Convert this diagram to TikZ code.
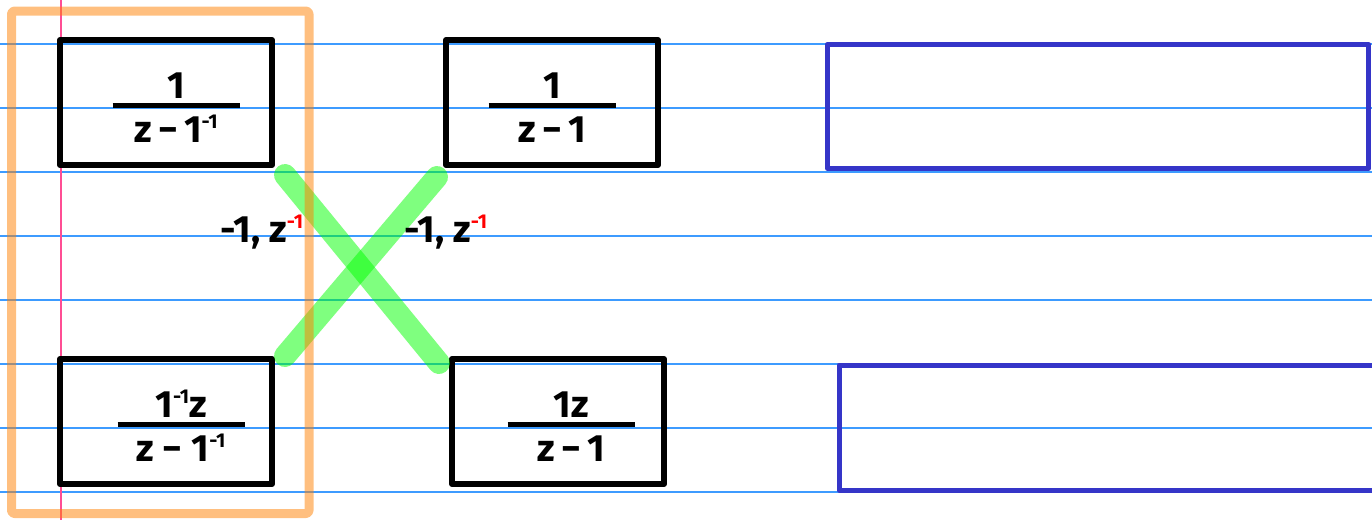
\documentclass[tikz,border=0pt]{standalone}
\usepackage{fontspec}
\setmainfont{Fira Sans}
\usetikzlibrary{positioning}

\definecolor{ruleblue}{HTML}{3D9BFF}
\definecolor{marginpink}{HTML}{FF4D94}
\definecolor{boxblue}{HTML}{3535C8}

\newcommand{\hwsup}[1]{\raisebox{14pt}{\fontsize{20}{20}\selectfont #1}}
% optional shift moves the whole fraction to the right
\newcommand{\hwfrac}[3][0pt]{\hspace*{#1}\rule{0pt}{36pt}#2\\[-30.5pt]\hspace*{#1}\rule{127pt}{5pt}\\[-5.5pt]\hspace*{#1}#3}

\begin{document}
\begin{tikzpicture}[x=1pt,y=-1pt,line join=round,
    hw/.style={font=\fontsize{38}{40}\selectfont\bfseries},
    fbox/.style={draw,line width=6pt,minimum width=212pt,minimum height=125pt,inner sep=0pt,align=center,hw},
    ansbox/.style={draw=boxblue,line width=5pt,minimum height=124pt,inner sep=0pt},
    cross/.style={green,opacity=0.5,line width=22pt,line cap=round}]
        \clip (0,0) rectangle (1372,520);
        % ruled paper
        \foreach \y in {44,108,...,492}
            \draw[ruleblue,line width=1.5pt] (0,\y) -- (1372,\y);
        \draw[marginpink,line width=1.5pt] (61,0) -- (61,520);
        % fractions
        \node[fbox] (tl) at (166,102.5) {\hwfrac[20pt]{1}{z\,−\,1\hwsup{-1}}};
        \node[fbox,right=168pt of tl] (tm) {\hwfrac{1}{z\,−\,1}};
        \node[fbox,below=188pt of tl] (bl) {\hwfrac[30pt]{1\hwsup{-1}z}{z − 1\hwsup{-1}}};
        \node[fbox,right=174pt of bl] (bm) {\hwfrac[26pt]{1z}{z\,−\,1}};
        % empty answer boxes
        \node[ansbox,minimum width=541pt] (ansTop) at (1098,106.3) {};
        \node[ansbox,minimum width=562pt,minimum height=125pt] (ansBot) at (1120,427.5) {};
        % cross
        \draw[cross] ([xshift=10pt,yshift=-7pt]tl.south east) -- ([xshift=-10pt,yshift=-7pt]bm.north west);
        \draw[cross] ([xshift=10pt]bl.north east) -- ([xshift=-6pt,yshift=-9pt]tm.south west);
        \draw[orange,opacity=0.5,line width=9pt,rounded corners=3pt] (11.5,11) rectangle (309,513.5);
        \node[hw] (lblA) at (262,232) {-1, z\textcolor{red}{\hwsup{-1}}};
        \node[hw] (lblB) at (446,232) {-1, z\textcolor{red}{\hwsup{-1}}};
    \end{tikzpicture}
\end{document}
